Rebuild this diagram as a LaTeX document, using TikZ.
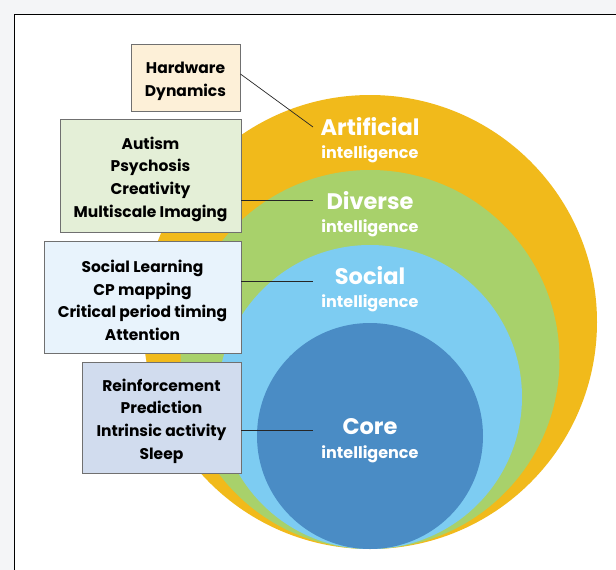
\documentclass[tikz,border=0pt]{standalone}
\usepackage{fontspec}
\setmainfont{Poppins}
\definecolor{cyel}{HTML}{F1BA1B}
\definecolor{cgrn}{HTML}{A8D16B}
\definecolor{clbl}{HTML}{7DCCF2}
\definecolor{ccor}{HTML}{4A8CC5}
\definecolor{bg}{HTML}{F4F5F7}
\definecolor{bx1}{HTML}{FDF0D8}
\definecolor{bx2}{HTML}{E4EFD7}
\definecolor{bx3}{HTML}{E8F3FC}
\definecolor{bx4}{HTML}{D1DCEE}
\definecolor{bord}{HTML}{707070}
\tikzset{
  infobox/.style={draw=bord, line width=0.9pt, inner sep=0pt},
  boxtext/.style={inner sep=0pt, align=center,
    font=\fontsize{15.5}{22.7}\selectfont\bfseries},
  big/.style={text=white, font=\fontsize{22.5}{24}\selectfont\bfseries, inner sep=0pt},
  small/.style={text=white, font=\fontsize{16}{18}\selectfont\bfseries, inner sep=0pt},
  conn/.style={line width=0.7pt, draw=black!85}
}
\begin{document}
\begin{tikzpicture}[x=1pt,y=-1pt]
\useasboundingbox (0,0) rectangle (616,570);
\fill[bg] (0,0) rectangle (616,570);
\draw[fill=white, line width=1pt] (14.5,14) rectangle (640,600);
% circles
\fill[cyel] (370,322) circle (227);
\fill[cgrn] (370,359.5) circle (189.5);
\fill[clbl] (370,397) circle (152);
\fill[ccor] (370,436) circle (113);
% circle labels
\node[big] (art) at (370,127) {Artificial};
\node[small] (arti) at (370,154) {intelligence};
\node[big] (div) at (370,201) {Diverse};
\node[small] (divi) at (370,228) {intelligence};
\node[big] (soc) at (370,276) {Social};
\node[small] (soci) at (370,303) {intelligence};
\node[big] (cor) at (370,427) {Core};
\node[small] (cori) at (370,454) {intelligence};
% boxes
\node[infobox, fill=bx1, minimum width=109pt, minimum height=67pt] (b1) at (185.5,77.5) {};
\node[infobox, fill=bx2, minimum width=181pt, minimum height=113pt] (b2) at (150.5,175.5) {};
\node[infobox, fill=bx3, minimum width=197pt, minimum height=112pt] (b3) at (142.5,297) {};
\node[infobox, fill=bx4, minimum width=159pt, minimum height=111pt] (b4) at (161.5,417.5) {};
\node[boxtext] (t1) at ([yshift=-4pt]b1.center) {Hardware\\Dynamics};
\node[boxtext] (t2) at ([yshift=-3.5pt]b2.center) {Autism\\Psychosis\\Creativity\\Multiscale Imaging};
\node[boxtext] (t3) at ([yshift=-3.5pt]b3.center) {Social Learning\\CP mapping\\Critical period timing\\Attention};
\node[boxtext] (t4) at ([yshift=-3.5pt]b4.center) {Reinforcement\\Prediction\\Intrinsic activity\\Sleep};
% connector ends
\coordinate (e1) at (313,127);
\coordinate (e2) at (313,200);
\coordinate (e3) at (313,281);
\coordinate (e4) at (313,430);
\draw[conn] (b1.east |- 0,74) -- (e1);
\draw[conn] (b2.east |- e2) -- (e2);
\draw[conn] (b3.east |- e3) -- (e3);
\draw[conn] (b4.east |- e4) -- (e4);
\end{tikzpicture}
\end{document}
